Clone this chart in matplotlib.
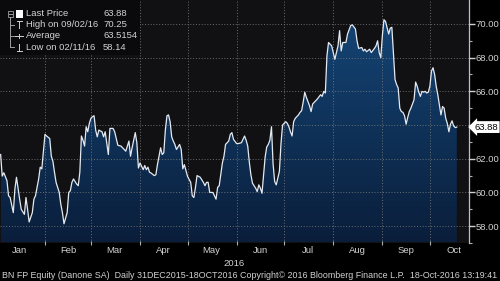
import numpy as np
import pandas as pd
import matplotlib
matplotlib.use("Agg")
import matplotlib.pyplot as plt
import matplotlib.dates as mdates
from matplotlib.patches import Polygon, Rectangle
from matplotlib.lines import Line2D
from matplotlib.colors import LinearSegmentedColormap

# ---- data (days after 2015-12-31, closing price) ----
start = pd.Timestamp("2015-12-31")
days = [4, 5, 6, 8, 9, 10, 12, 13, 14, 16, 17, 19, 20, 21, 22, 24, 25, 26, 27, 28,
        29, 30, 32, 33, 35, 36, 37, 38, 39, 41, 42, 43, 44, 46, 47, 48, 49, 50, 52, 53,
        54, 55, 56, 57, 58, 59, 60, 61, 62, 63, 64, 65, 66, 68, 69, 70, 72, 73, 75, 76,
        77, 78, 80, 81, 83, 85, 86, 87, 89, 90, 91, 92, 94, 95, 96, 97, 98, 99, 101, 102,
        103, 105, 106, 107, 108, 109, 110, 111, 112, 113, 114, 115, 117, 118, 119, 120, 122, 124, 125, 126,
        127, 128, 130, 132, 133, 134, 135, 136, 138, 139, 140, 141, 142, 144, 145, 146, 148, 149, 150, 151,
        153, 154, 156, 158, 159, 160, 161, 162, 163, 165, 166, 167, 168, 169, 170, 171, 172, 173, 174, 175,
        176, 177, 178, 179, 180, 181, 182, 184, 185, 186, 187, 188, 189, 190, 191, 192, 193, 194, 195, 196,
        197, 199, 200, 201, 203, 204, 206, 207, 208, 209, 210, 211, 213, 214, 215, 216, 217, 218, 219, 220,
        222, 223, 225, 226, 228, 229, 230, 232, 233, 234, 235, 237, 238, 240, 241, 242, 243, 244, 245, 246,
        247, 249, 250, 251, 252, 253, 254, 255, 256, 257, 258, 259, 260, 261, 262, 263, 265, 266, 267, 268,
        269, 270, 271, 272, 273, 274, 275, 276, 277, 278, 279, 280, 281, 282, 283, 284, 285, 286, 287, 288,
        289, 290, 291, 292]
prices = [62.25, 60.97, 61.17, 60.7, 59.8, 59.7, 58.8, 60.2, 60.9, 59.6, 59.0, 58.7, 59.7, 59.0, 58.25, 58.8, 59.6, 59.8, 60.3, 60.8,
          61.5, 61.4, 63.45, 63.35, 63.2, 62.15, 61.85, 61.2, 60.6, 60.0, 59.3, 58.8, 58.14, 58.8, 60.0, 60.1, 60.6, 60.8, 60.5, 60.4,
          61.2, 63.35, 63.1, 62.75, 63.9, 63.6, 64.1, 64.4, 64.5, 64.55, 63.7, 63.3, 63.7, 63.6, 63.3, 63.6, 62.25, 63.8, 63.8, 63.6,
          63.2, 62.8, 62.75, 62.65, 62.45, 63.05, 62.15, 62.65, 63.55, 62.95, 61.45, 61.75, 61.35, 61.6, 61.35, 61.5, 61.2, 61.15, 61.0, 61.05,
          61.65, 62.65, 62.25, 62.35, 63.7, 64.55, 64.6, 64.2, 63.3, 63.05, 62.85, 62.55, 62.85, 62.55, 61.4, 61.65, 60.95, 60.6, 59.8, 59.7,
          60.3, 61.0, 60.9, 60.6, 60.4, 60.6, 60.6, 60.0, 60.0, 59.8, 59.6, 60.3, 60.4, 61.75, 62.15, 62.85, 63.05, 63.45, 63.55, 63.15,
          62.9, 62.9, 62.95, 63.35, 63.1, 62.75, 61.8, 61.05, 60.55, 60.25, 60.05, 60.45, 60.25, 59.95, 61.0, 62.1, 62.7, 62.85, 63.1, 63.9,
          61.7, 60.65, 60.45, 60.85, 61.25, 62.9, 64.0, 64.2, 64.1, 63.9, 63.6, 63.35, 64.2, 64.4, 64.5, 64.6, 64.75, 64.85, 65.35, 65.95,
          65.65, 65.15, 64.8, 65.25, 65.45, 65.55, 65.8, 65.7, 66.0, 65.9, 68.1, 68.9, 68.7, 68.3, 67.9, 68.3, 68.7, 69.6, 68.4, 68.9,
          68.9, 69.4, 69.9, 69.95, 69.7, 69.0, 68.55, 68.6, 68.4, 68.5, 68.35, 68.5, 68.3, 68.55, 68.7, 69.0, 68.3, 68.0, 69.3, 70.25,
          70.15, 69.4, 69.75, 69.8, 68.3, 66.7, 66.4, 66.2, 65.0, 64.8, 64.75, 64.55, 64.05, 64.45, 64.8, 65.0, 65.5, 66.55, 66.3, 65.95,
          65.7, 66.0, 65.95, 66.0, 65.9, 65.95, 66.3, 67.2, 67.4, 67.0, 66.3, 65.8, 65.2, 64.6, 65.1, 65.0, 64.4, 64.1, 63.6, 64.05,
          64.25, 63.95, 63.85, 63.88]

legend_labels = ["Last Price", "High on 09/02/16", "Average", "Low on 02/11/16"]
legend_values = ["63.88", "70.25", "63.5154", "58.14"]
last_price = 63.88
hidden_tick = 64.0
ymin, ymax = 57.04, 71.42
footer = ("BN FP Equity (Danone SA)  Daily 31DEC2015-18OCT2016 Copyright\u00a9 2016 "
          "Bloomberg Finance L.P.  18-Oct-2016 13:19:41")

dates = start + pd.to_timedelta(days, unit="D")
xnum = mdates.date2num(dates.to_pydatetime())
vals = np.array(prices)

plt.rcParams["font.family"] = ["Liberation Sans", "DejaVu Sans"]
TXT = "#d2d2d2"

fig = plt.figure(figsize=(5.0, 2.81), dpi=100, facecolor="#000000")
ax = fig.add_axes([0.0, 1 - 243 / 281, 469 / 500, 243 / 281])
ax.set_facecolor("#111114")

x0 = mdates.date2num(start + pd.Timedelta(days=3.6))
x1 = mdates.date2num(start + pd.Timedelta(days=299.7))
ax.set_xlim(x0, x1)
ax.set_ylim(ymin, ymax)

# gradient area fill
cmap = LinearSegmentedColormap.from_list("bb", ["#0a1e3b", "#15487a"])
grad = np.linspace(0, 1, 256).reshape(-1, 1)
im = ax.imshow(grad, extent=[xnum[0], xnum[-1], ymin, ymax], origin="lower",
               aspect="auto", cmap=cmap, zorder=1)
poly_xy = np.vstack([np.column_stack([xnum, vals]),
                     [[xnum[-1], ymin], [xnum[0], ymin]]])
patch = Polygon(poly_xy, closed=True, facecolor="none", edgecolor="none")
ax.add_patch(patch)
im.set_clip_path(patch)

ax.plot(xnum, vals, color="#e4e9f0", linewidth=0.9, zorder=3)

# axes / ticks
ax.set_axisbelow(False)
ax.xaxis.set_major_locator(mdates.MonthLocator())
ax.xaxis.set_major_formatter(plt.NullFormatter())
ax.xaxis.set_minor_locator(mdates.MonthLocator(bymonthday=16))
ax.xaxis.set_minor_formatter(mdates.DateFormatter("%b"))
ax.yaxis.tick_right()
ax.set_yticks(np.arange(58, 71, 2))
ax.set_yticks(np.arange(57, 71, 2), minor=True)
ax.yaxis.set_major_formatter(plt.FuncFormatter(
    lambda v, p: "" if abs(v - hidden_tick) < 1e-6 else f"{v:.2f}"))
ax.grid(True, which="major", color="#777777", linestyle=(0, (1.2, 2.2)), linewidth=0.6)
ax.tick_params(axis="x", which="major", length=2.5, width=0.8, color="#b0b0b0", direction="inout")
ax.tick_params(axis="x", which="minor", length=0, labelsize=6.8, labelcolor=TXT, pad=2)
ax.tick_params(axis="y", which="major", length=4, width=1.0, color="#d0d0d0",
               labelsize=6.8, labelcolor=TXT, pad=1.0, direction="out")
ax.tick_params(axis="y", which="minor", length=2.5, width=0.8, color="#b0b0b0", direction="out")
for s in ["top", "left", "bottom"]:
    ax.spines[s].set_visible(False)
ax.spines["right"].set_color("#c0c0c0")
ax.spines["right"].set_linewidth(0.9)

# last price tag
ax.annotate(f"{last_price:.2f}", xy=(1.0, last_price), xycoords=("axes fraction", "data"),
            xytext=(4, 0), textcoords="offset points", ha="left", va="center",
            fontsize=6.8, color="#000000", annotation_clip=False,
            bbox=dict(boxstyle="larrow,pad=0.15", fc="#ffffff", ec="none"), zorder=6)

# year label
fig.text(234 / 500, 1 - 263 / 281, "2016", ha="center", va="center", fontsize=6.8, color=TXT)
# footer
fig.text(2 / 500, 1 - 275 / 281, footer, ha="left", va="center", fontsize=6.42, color=TXT)

# legend box
def fx(px):
    return px / 500

def fy(py):
    return 1 - py / 281

fig.add_artist(Rectangle((0, fy(55)), fx(140), 55 / 281, transform=fig.transFigure,
                         facecolor="#0a0a0c", edgecolor="none", zorder=5))
rows_y = [14, 24.5, 35.8, 47.3]
for i, (lab, val) in enumerate(zip(legend_labels, legend_values)):
    fig.text(fx(26), fy(rows_y[i]), lab, ha="left", va="center", fontsize=6.8, color=TXT, zorder=7)
    fig.text(fx(103), fy(rows_y[i]), val, ha="left", va="center", fontsize=6.8, color=TXT, zorder=7)

def fline(xs, ys, c="#a0a0a0", lw=0.7):
    fig.add_artist(Line2D([fx(v) for v in xs], [fy(v) for v in ys], transform=fig.transFigure,
                          color=c, linewidth=lw, zorder=7))

# tree icon
fig.add_artist(Rectangle((fx(7.5), fy(16.5)), fx(5), 5 / 281, transform=fig.transFigure,
                         facecolor="none", edgecolor="#a0a0a0", linewidth=0.6, zorder=7))
fline([8.5, 11.5], [14, 14])
fline([10, 10], [16.5, 47.3])
for ry in rows_y[1:]:
    fline([10, 13.5], [ry, ry])
fig.add_artist(Rectangle((fx(16), fy(17.5)), fx(7), 7 / 281, transform=fig.transFigure,
                         facecolor="#ffffff", edgecolor="none", zorder=7))
# high marker
fline([16.5, 21.5], [21, 21], c="#d0d0d0")
fline([19, 19], [21, 28], c="#d0d0d0")
# average marker
fline([15, 23], [35.8, 35.8], c="#d0d0d0")
fline([19, 19], [34, 37.6], c="#d0d0d0")
# low marker
fline([16.5, 21.5], [51, 51], c="#d0d0d0")
fline([19, 19], [44, 51], c="#d0d0d0")

fig.savefig("out.png", dpi=100, facecolor=fig.get_facecolor())
